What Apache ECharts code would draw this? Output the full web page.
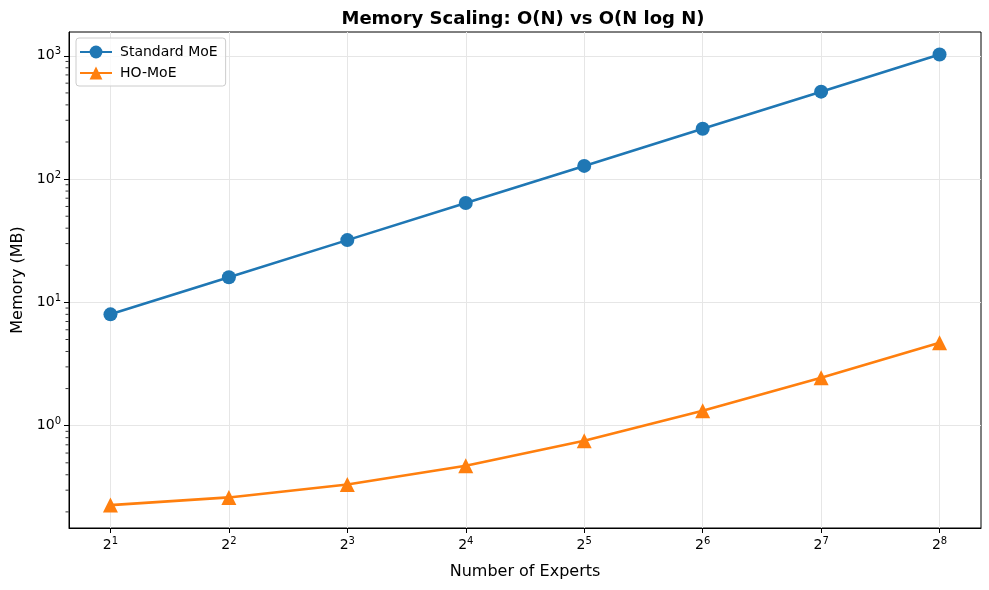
<!DOCTYPE html>
<html>
<head>
<meta charset="utf-8">
<script src="https://cdn.jsdelivr.net/npm/echarts@6/dist/echarts.min.js"></script>
<style>html,body{margin:0;padding:0;background:#fff}#c{width:989px;height:590px}</style>
</head>
<body>
<div id="c"></div>
<script>
const experts = [2, 4, 8, 16, 32, 64, 128, 256];
const standardMoE = [8, 16, 32, 64, 128, 256, 512, 1024];
const hoMoE = [0.227, 0.262, 0.333, 0.474, 0.755, 1.32, 2.45, 4.71];
const xTicks = [2, 4, 8, 16, 32, 64, 128, 256];
const yTicks = [1, 10, 100, 1000];
const yMinorTicks = [0.2,0.3,0.4,0.5,0.6,0.7,0.8,0.9,2,3,4,5,6,7,8,9,20,30,40,50,60,70,80,90,200,300,400,500,600,700,800,900];

const FONT = 'DejaVu Sans';
const xMin = Math.pow(2, 0.65), xMax = Math.pow(2, 8.35);
const yMin = 0.148, yMax = 1560;

function sup(base, v, logFn) {
  const e = Math.round(logFn(v));
  return '{b|' + base + '}{s|' + e + '}';
}
const rich = {
  b: {fontFamily: FONT, fontSize: 14, color: '#000'},
  s: {fontFamily: FONT, fontSize: 10, color: '#000', padding: [0, 0, 8, 0]}
};

const chart = echarts.init(document.getElementById('c'), null, {renderer: 'canvas'});
chart.setOption({
  animation: false,
  backgroundColor: '#fff',
  title: {
    text: 'Memory Scaling: O(N) vs O(N log N)',
    left: 518, top: 5, textAlign: 'center',
    textStyle: {fontFamily: FONT, fontSize: 18, fontWeight: 'bold', color: '#000'}
  },
  legend: {
    left: 76, top: 38, orient: 'vertical',
    itemWidth: 32, itemHeight: 16, itemGap: 7,
    padding: [7, 8, 6, 3],
    borderColor: '#cccccc', borderWidth: 1, borderRadius: 3,
    backgroundColor: 'rgba(255,255,255,0.8)',
    textStyle: {fontFamily: FONT, fontSize: 14, color: '#000', padding: [0, 0, 0, 3]},
    data: ['Standard MoE', 'HO-MoE']
  },
  grid: {left: 69, right: 8, top: 32, bottom: 62, show: true, borderColor: '#000', borderWidth: 1, backgroundColor: 'transparent'},
  xAxis: {
    type: 'log', logBase: 2, min: xMin, max: xMax,
    name: 'Number of Experts', nameLocation: 'middle', nameGap: 36,
    nameTextStyle: {fontFamily: FONT, fontSize: 16, color: '#000'},
    axisLine: {show: true, lineStyle: {color: '#000', width: 1}},
    axisTick: {show: true, inside: false, length: 5, lineStyle: {color: '#000'}, customValues: xTicks},
    axisLabel: {margin: 8, customValues: xTicks, formatter: v => sup(2, v, Math.log2), rich: rich},
    splitLine: {show: true, lineStyle: {color: '#e6e6e6', width: 1}},
    minorTick: {show: false}
  },
  yAxis: {
    type: 'log', logBase: 10, min: yMin, max: yMax,
    name: 'Memory (MB)', nameLocation: 'middle', nameGap: 42, nameRotate: 90,
    nameTextStyle: {fontFamily: FONT, fontSize: 16, color: '#000'},
    axisLine: {show: true, lineStyle: {color: '#000', width: 1}},
    axisTick: {show: true, inside: false, length: 5, lineStyle: {color: '#000'}, customValues: yTicks},
    axisLabel: {margin: 8, customValues: yTicks, formatter: v => sup(10, v, Math.log10), rich: rich},
    splitLine: {show: true, lineStyle: {color: '#e6e6e6', width: 1}}
  },
  series: [{
    name: 'Standard MoE', type: 'line',
    data: experts.map((x, i) => [x, standardMoE[i]]),
    symbol: 'circle', symbolSize: 14,
    lineStyle: {color: '#1f77b4', width: 2.6},
    itemStyle: {color: '#1f77b4'},
    z: 3
  }, {
    name: 'HO-MoE', type: 'line',
    data: experts.map((x, i) => [x, hoMoE[i]]),
    symbol: 'triangle', symbolSize: 15,
    lineStyle: {color: '#ff7f0e', width: 2.6},
    itemStyle: {color: '#ff7f0e'},
    z: 4
  }, {
    name: 'minorTicks', type: 'scatter',
    data: yMinorTicks.map(v => [xMin, v]),
    symbol: 'rect', symbolSize: [3, 1], symbolOffset: [-2, 0],
    clip: false, silent: true,
    itemStyle: {color: '#000'},
    z: 5
  }]
});
</script>
</body>
</html>
